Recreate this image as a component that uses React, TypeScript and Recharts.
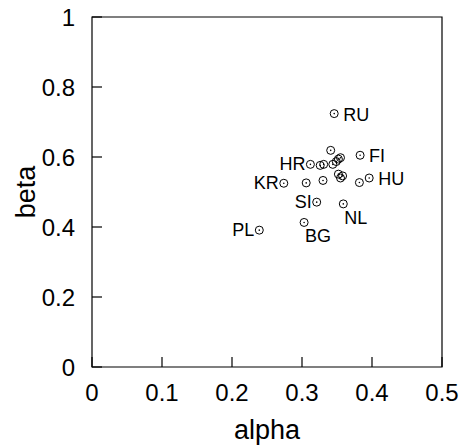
import React from 'react';
import { ScatterChart, Scatter, XAxis, YAxis, ReferenceArea, Label } from 'recharts';

// alpha / beta estimates per country (empty name = unlabeled point)
const alpha = [
  0.346, 0.341, 0.383, 0.312, 0.326, 0.331, 0.344, 0.349, 0.352, 0.355, 0.352,
  0.358, 0.355, 0.396, 0.382, 0.330, 0.306, 0.274, 0.321, 0.359, 0.303, 0.239,
];
const beta = [
  0.724, 0.619, 0.605, 0.579, 0.576, 0.579, 0.579, 0.587, 0.594, 0.598, 0.551,
  0.546, 0.540, 0.540, 0.527, 0.533, 0.526, 0.525, 0.471, 0.466, 0.413, 0.391,
];
const country = [
  'RU', '', 'FI', 'HR', '', '', '', '', '', '', '',
  '', '', 'HU', '', '', '', 'KR', 'SI', 'NL', 'BG', 'PL',
];

const xTicks = [0, 0.1, 0.2, 0.3, 0.4, 0.5];
const yTicks = [0, 0.2, 0.4, 0.6, 0.8, 1];

// where each country label sits relative to its point
const labelSide: Record<string, 'left' | 'right' | 'below'> = {
  RU: 'right',
  FI: 'right',
  HU: 'right',
  NL: 'below',
  BG: 'below',
  HR: 'left',
  KR: 'left',
  SI: 'left',
  PL: 'left',
};

const data = alpha.map((a, i) => ({ alpha: a, beta: beta[i], name: country[i] }));

const FONT = '"Liberation Sans", Arial, Helvetica, sans-serif';
const TICK_LEN = 10;

function Marker(props: any) {
  const { cx, cy, payload } = props;
  if (cx == null || cy == null) return <g />;
  const name: string = payload?.name ?? '';
  const side = labelSide[name];
  let label = null;
  if (name && side) {
    const common = { fontFamily: FONT, fontSize: 18, fill: '#000', dominantBaseline: 'central' as const };
    if (side === 'right') {
      label = <text x={cx + 9} y={cy + 1} textAnchor="start" {...common}>{name}</text>;
    } else if (side === 'left') {
      label = <text x={cx - 5} y={cy} textAnchor="end" {...common}>{name}</text>;
    } else {
      label = <text x={cx + 1} y={cy + 14} textAnchor="start" {...common}>{name}</text>;
    }
  }
  return (
    <g>
      <circle cx={cx} cy={cy} r={4} fill="none" stroke="#000" strokeWidth={1} />
      <circle cx={cx} cy={cy} r={0.8} fill="#000" />
      {label}
    </g>
  );
}

function BottomTick(props: any) {
  const { x, y, payload } = props;
  const base = y - 25;
  return (
    <g>
      <line x1={x} y1={base} x2={x} y2={base - TICK_LEN} stroke="#000" strokeWidth={1.2} />
      <text x={x} y={y} textAnchor="middle" dominantBaseline="central" fontFamily={FONT} fontSize={24} fill="#000">
        {String(payload.value)}
      </text>
    </g>
  );
}

function LeftTick(props: any) {
  const { x, y, payload } = props;
  const base = x + 17;
  return (
    <g>
      <line x1={base} y1={y} x2={base + TICK_LEN} y2={y} stroke="#000" strokeWidth={1.2} />
      <text x={x} y={y} textAnchor="end" dominantBaseline="central" fontFamily={FONT} fontSize={24} fill="#000">
        {String(payload.value)}
      </text>
    </g>
  );
}

function RightTick(props: any) {
  const { x, y } = props;
  return <line x1={x} y1={y} x2={x - TICK_LEN} y2={y} stroke="#000" strokeWidth={1.2} />;
}

export default function App() {
  return (
    <div style={{ position: 'absolute', left: 0, top: 0, width: 462, height: 445, background: '#fff' }}>
      <ScatterChart width={462} height={445} margin={{ top: 17, right: 20, bottom: 0, left: 0 }}>
        <XAxis
          type="number"
          dataKey="alpha"
          domain={[0, 0.5]}
          ticks={xTicks}
          interval={0}
          height={78}
          axisLine={false}
          tickLine={false}
          tickSize={0}
          tickMargin={25}
          tick={<BottomTick />}
          allowDataOverflow
        >
          <Label
            content={(p: any) => {
              const vb = p.viewBox;
              return (
                <text x={vb.x + vb.width / 2} y={vb.y + 72} textAnchor="middle" fontFamily={FONT} fontSize={27} fill="#000">
                  alpha
                </text>
              );
            }}
          />
        </XAxis>
        <YAxis
          yAxisId="left"
          type="number"
          dataKey="beta"
          domain={[0, 1]}
          ticks={yTicks}
          interval={0}
          width={92}
          axisLine={false}
          tickLine={false}
          tickSize={0}
          tickMargin={17}
          tick={<LeftTick />}
          allowDataOverflow
        >
          <Label
            content={(p: any) => {
              const vb = p.viewBox;
              const cx = vb.x + 35;
              const cy = vb.y + vb.height / 2;
              return (
                <text x={cx} y={cy} transform={`rotate(-90 ${cx} ${cy})`} textAnchor="middle" fontFamily={FONT} fontSize={27} fill="#000">
                  beta
                </text>
              );
            }}
          />
        </YAxis>
        <YAxis
          yAxisId="right"
          orientation="right"
          type="number"
          dataKey="beta"
          domain={[0, 1]}
          ticks={yTicks}
          interval={0}
          width={0}
          axisLine={false}
          tickLine={false}
          tickSize={0}
          tickMargin={0}
          tick={<RightTick />}
          allowDataOverflow
        />
        <ReferenceArea
          yAxisId="left"
          x1={0}
          x2={0.5}
          y1={0}
          y2={1}
          fill="none"
          fillOpacity={0}
          stroke="#000"
          strokeWidth={1.2}
        />
        <Scatter yAxisId="right" data={data} shape={() => <g />} isAnimationActive={false} />
        <Scatter yAxisId="left" data={data} shape={<Marker />} isAnimationActive={false} />
      </ScatterChart>
    </div>
  );
}
